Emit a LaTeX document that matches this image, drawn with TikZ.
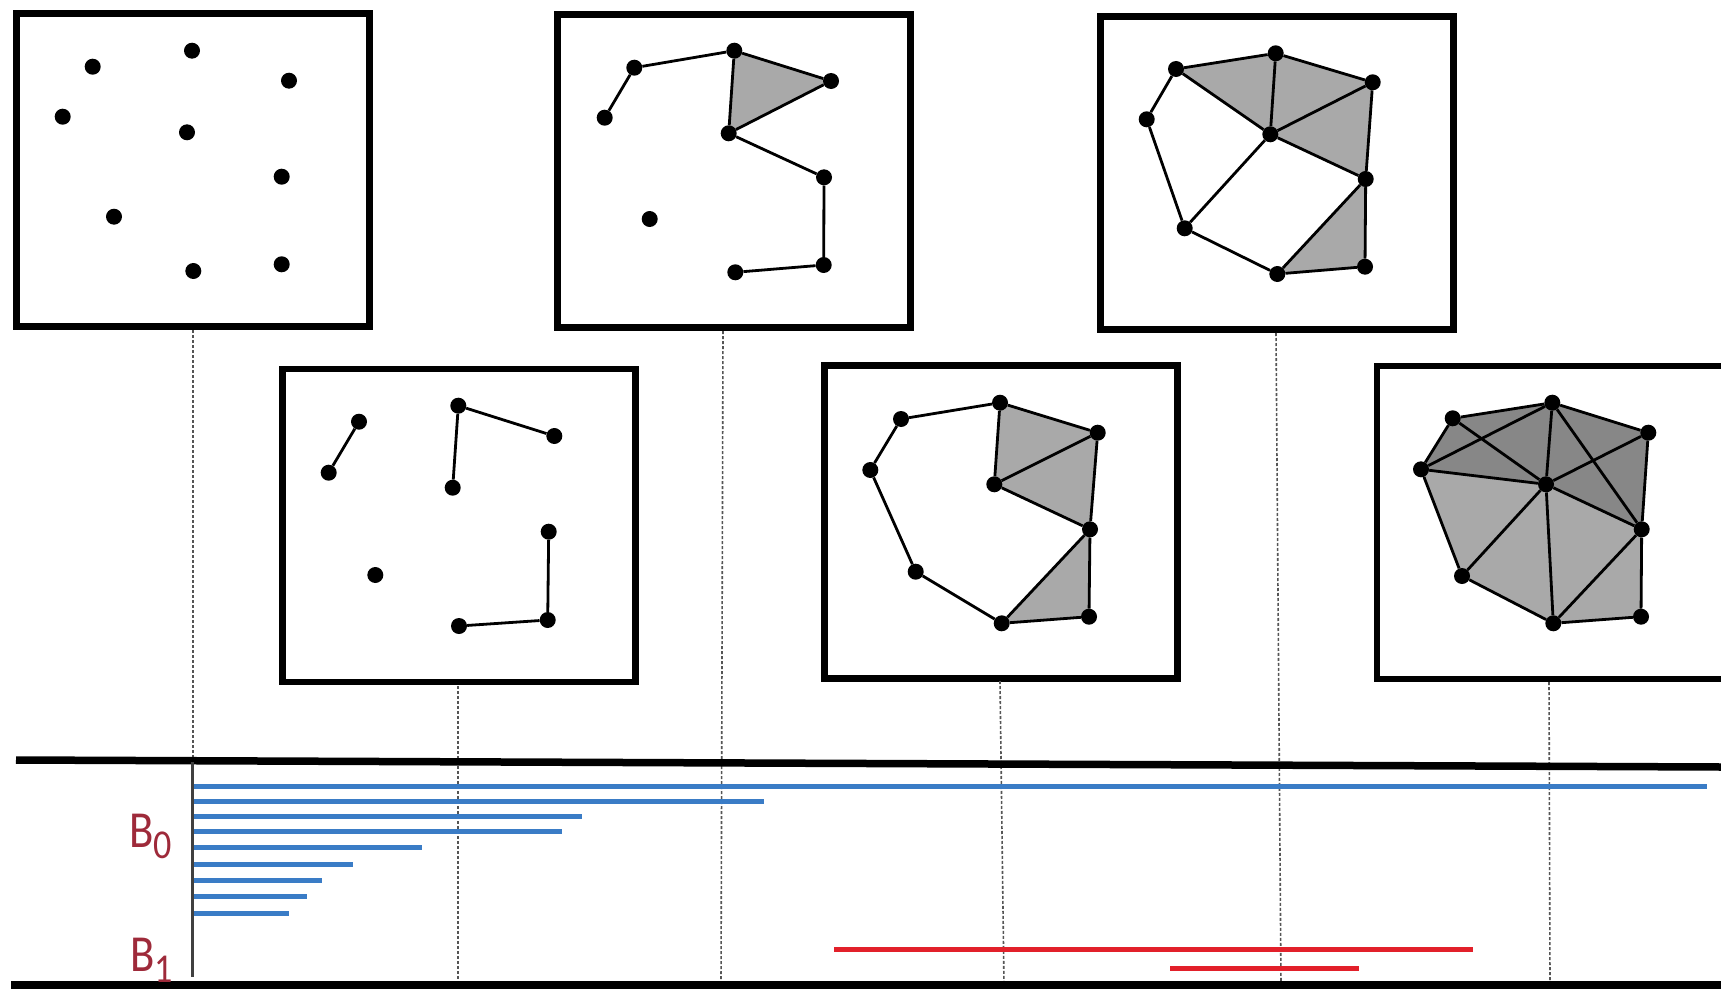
\documentclass[tikz,border=0pt]{standalone}
\usepackage{fontspec}
\newfontfamily\labelfont{Carlito}
\pgfdeclarelayer{bg}
\pgfsetlayers{bg,main}
\definecolor{shadelight}{HTML}{A9A9A9}
\definecolor{shadedark}{HTML}{878787}
\definecolor{barblue}{RGB}{58,124,198}
\definecolor{barred}{RGB}{226,32,42}
\definecolor{labred}{HTML}{9E2A3A}
\definecolor{guide}{HTML}{555555}
\newcommand\lowsub[1]{\raisebox{-10.5pt}{\fontsize{41}{41}\selectfont\scalebox{0.88}[1]{#1}}}
\begin{document}
\begin{tikzpicture}[x=1pt,y=-1pt,
  frame/.style={draw=black,line width=6.5pt,inner sep=0pt,
                minimum width=353pt,minimum height=313pt},
  dot/.style={circle,fill=black,inner sep=0pt,minimum size=16pt},
  edge/.style={draw=black,line width=2.8pt},
  light/.style={fill=shadelight},
  dark/.style={fill=shadedark},
  guideline/.style={draw=guide,line width=1.6pt,dash pattern=on 3pt off 2pt},
  rule/.style={draw=black,line width=7.5pt},
  bbar/.style={draw=barblue,line width=5pt},
  rbar/.style={draw=barred,line width=5pt},
  lab/.style={text=labred,font=\labelfont\fontsize{52}{52}\selectfont,
              inner sep=0pt,anchor=base west}]
\useasboundingbox (0,0) rectangle (1721,990);
\begin{pgfonlayer}{bg}
  \fill[white] (0,0) rectangle (1721,990);
\end{pgfonlayer}
\clip (0,0) rectangle (1721,990);

% ---- filtration frames ----
\node[frame] (f1) at (193,169.8) {};
\node[frame] (f2) at (734.2,170.8) {};
\node[frame] (f3) at (1277,173) {};
\node[frame] (f4) at (459,525.3) {};
\node[frame] (f5) at (1001.2,522) {};
\node[frame] (f6) at (1553.5,522.4) {};

% ---- guide lines from each frame down to the barcode ----
\coordinate (g1a) at (193,330);   \coordinate (g1b) at (193,762);
\coordinate (g2a) at (723,331);   \coordinate (g2b) at (721,985);
\coordinate (g3a) at (1276,333);  \coordinate (g3b) at (1281,985);
\coordinate (g4a) at (458,686);   \coordinate (g4b) at (458,985);
\coordinate (g5a) at (1000,681);  \coordinate (g5b) at (1004,985);
\coordinate (g6a) at (1549,682);  \coordinate (g6b) at (1550,985);
\foreach \k in {1,...,6} \draw[guideline] (g\k a) -- (g\k b);

% ---- frame 1: points only ----
\foreach \n/\p in {a/{92.7,66.7},l/{62.7,116.7},t/{192,50.7},r/{289,80.7},
  c/{187,132.3},s/{281.7,176.7},bl/{114,216.7},b/{193.3,271},br/{281.7,264.3}}
  \node[dot] (p1\n) at (\p) {};

% ---- frame 2 ----
\foreach \n/\p in {a/{634.3,67.7},l/{604.7,117.7},t/{734.3,50.7},r/{831,81},
  c/{728.7,133.3},s/{824,177.3},bl/{649.7,219},b/{735.3,272.3},br/{823.7,265}}
  \node[dot] (p2\n) at (\p) {};
\foreach \u/\v in {l/a,a/t,t/r,r/c,c/t,c/s,s/br,br/b}
  \draw[edge] (p2\u) -- (p2\v);

% ---- frame 3 ----
\foreach \n/\p in {a/{1176,69},l/{1146.7,119.3},t/{1275.7,53.3},r/{1372.7,82.3},
  c/{1270.3,134.3},s/{1365.7,179},bl/{1184.7,228.3},b/{1277.3,274},br/{1365,266.7}}
  \node[dot] (p3\n) at (\p) {};
\foreach \u/\v in {a/t,t/r,r/s,s/br,br/b,b/bl,bl/l,l/a,a/c,t/c,r/c,c/s,c/bl,s/b}
  \draw[edge] (p3\u) -- (p3\v);

% ---- frame 4 ----
\foreach \n/\p in {a/{359,421.7},l/{328.7,472.7},t/{458.3,405.7},r/{554.3,436},
  c/{452.7,487.7},s/{548.7,531.7},bl/{375.3,575},b/{459,626},br/{547.7,620}}
  \node[dot] (p4\n) at (\p) {};
\foreach \u/\v in {a/l,t/r,t/c,s/br,br/b}
  \draw[edge] (p4\u) -- (p4\v);

% ---- frame 5 ----
\foreach \n/\p in {a/{901,419},l/{870.3,470},t/{1000,402.7},r/{1097.7,432.7},
  c/{994.3,484.3},s/{1090,529.3},bl/{915.7,571.7},b/{1001.7,623.3},br/{1089,616.7}}
  \node[dot] (p5\n) at (\p) {};
\foreach \u/\v in {a/t,t/r,r/s,s/br,br/b,b/bl,bl/l,l/a,t/c,c/r,c/s,s/b}
  \draw[edge] (p5\u) -- (p5\v);

% ---- frame 6 ----
\foreach \n/\p in {a/{1452.7,418.3},l/{1421,469.3},t/{1552.3,402.7},r/{1648.3,432.7},
  c/{1546,484.3},s/{1641.7,529.3},bl/{1462,576},b/{1553.3,623.3},br/{1641,616.7}}
  \node[dot] (p6\n) at (\p) {};
\foreach \u/\v in {a/t,t/r,r/s,s/br,br/b,b/bl,bl/l,l/a,l/t,a/c,l/c,t/c,t/s,r/c,c/s,c/bl,c/b,s/b}
  \draw[edge] (p6\u) -- (p6\v);

% ---- filled simplices ----
\begin{pgfonlayer}{bg}
  \fill[light] (p2t.center) -- (p2r.center) -- (p2c.center) -- cycle;
  \fill[light] (p3a.center) -- (p3t.center) -- (p3r.center) -- (p3s.center) -- (p3c.center) -- cycle;
  \fill[light] (p3s.center) -- (p3br.center) -- (p3b.center) -- cycle;
  \fill[light] (p5t.center) -- (p5r.center) -- (p5s.center) -- (p5c.center) -- cycle;
  \fill[light] (p5s.center) -- (p5br.center) -- (p5b.center) -- cycle;
  \fill[dark] (p6l.center) -- (p6a.center) -- (p6t.center) -- (p6r.center) -- (p6s.center) -- (p6c.center) -- cycle;
  \fill[light] (p6l.center) -- (p6c.center) -- (p6s.center) -- (p6br.center) -- (p6b.center) -- (p6bl.center) -- cycle;
\end{pgfonlayer}

% ---- barcode ----
\draw[rule] (16,760) -- (1721,767);
\draw[rule] (11,985) -- (1721,985);
\draw[draw=black!75,line width=3pt] (192,762) -- (192,977);

\foreach \y/\e in {786.7/1706.8, 801.5/764, 816/581.6, 831.3/562, 847.5/421.8,
                   864/352.5, 880.3/322, 896.5/307, 913.2/288.8}
  \draw[bbar] (193.5,\y) -- (\e,\y);
\draw[rbar] (834,949) -- (1473,949);
\draw[rbar] (1170,968) -- (1358.5,968);

\node[lab] (lb0) at (129,847.7) {\scalebox{0.86}[1]{B}\lowsub{0}};
\node[lab] (lb1) at (130,971.7) {\scalebox{0.86}[1]{B}\lowsub{1}};
\end{tikzpicture}
\end{document}
